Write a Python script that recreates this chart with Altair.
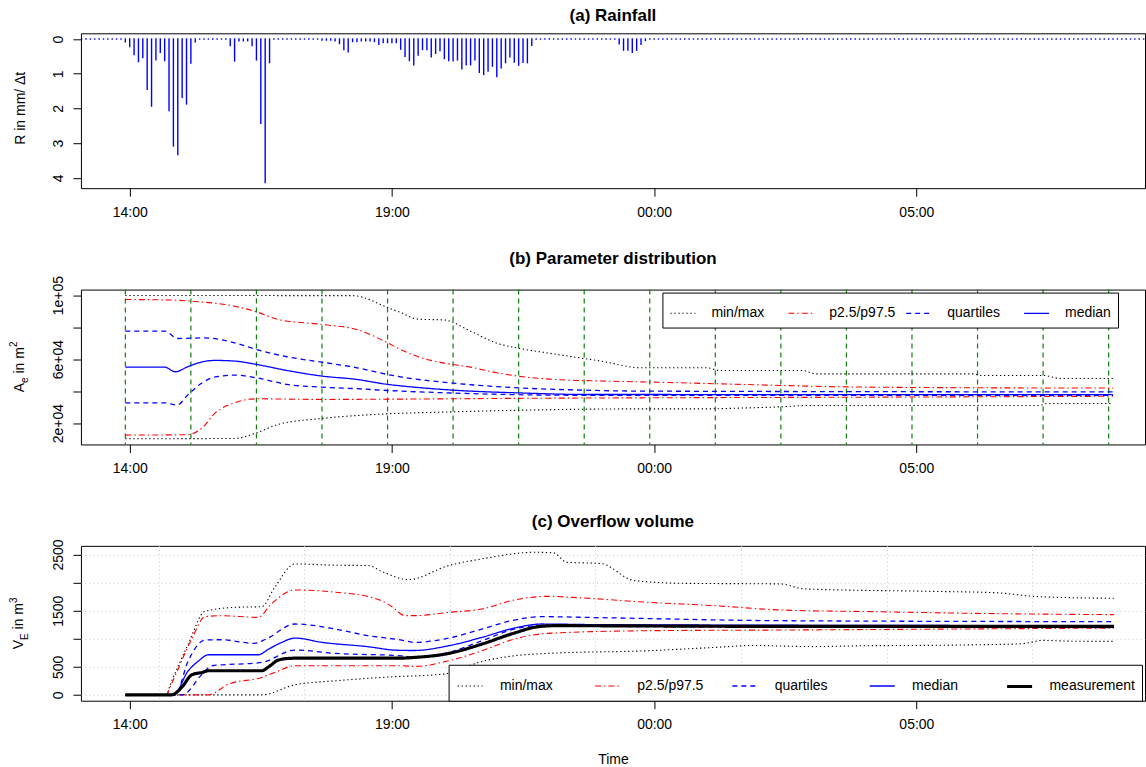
import altair as alt
import pandas as pd

FONT = "Liberation Sans"


def hours(clock):
    """Clock string -> hours after midnight of the first day (morning rolls over)."""
    h, m = map(int, clock.split(":"))
    v = h + m / 60.0
    return v + 24 if v < 12 else v


X_DOMAIN = [13.07, 33.36]
TIME_TICKS = [14, 19, 24, 29]

# ---------------- (a) rainfall, 5-minute steps ----------------
rain_first = "13:05"
rain_last = "09:20"
rain_clock = ["13:55", "14:00", "14:05", "14:10", "14:15", "14:20", "14:25", "14:30", "14:35",
              "14:40", "14:45", "14:50", "14:55", "15:00", "15:05", "15:10", "15:15",
              "15:55", "16:00", "16:05", "16:10", "16:15", "16:20", "16:25", "16:30", "16:35", "16:40",
              "17:40", "17:45", "17:50", "17:55", "18:00", "18:05", "18:10", "18:15", "18:20",
              "18:25", "18:30", "18:35", "18:40", "18:45", "18:50", "18:55", "19:00", "19:05",
              "19:10", "19:15", "19:20", "19:25", "19:30", "19:35", "19:40", "19:45", "19:50", "19:55",
              "20:00", "20:05", "20:10", "20:15", "20:20", "20:25", "20:30", "20:35", "20:40", "20:45",
              "20:50", "20:55", "21:00", "21:05", "21:10", "21:15", "21:20", "21:25", "21:30", "21:35",
              "21:40",
              "23:20", "23:25", "23:30", "23:35", "23:40", "23:45", "23:50"]
rain_mm = [0.08, 0.22, 0.45, 0.65, 0.53, 1.45, 1.93, 0.60, 0.38,
           0.62, 2.06, 3.08, 3.33, 1.68, 1.87, 0.69, 0.08,
           0.19, 0.63, 0.05, 0.05, 0.05, 0.19, 0.60, 2.43, 4.13, 0.68,
           0.03, 0.03, 0.03, 0.05, 0.13, 0.30, 0.37, 0.07, 0.07,
           0.05, 0.05, 0.05, 0.07, 0.15, 0.10, 0.10, 0.10, 0.10,
           0.29, 0.50, 0.62, 0.74, 0.46, 0.30, 0.30, 0.51, 0.41, 0.33,
           0.56, 0.62, 0.63, 0.60, 0.86, 0.74, 0.74, 0.60, 0.96, 1.02,
           0.92, 0.78, 1.08, 0.83, 0.68, 0.51, 0.66, 0.75, 0.67, 0.68,
           0.18,
           0.14, 0.32, 0.32, 0.38, 0.32, 0.15, 0.04]

# ---------------- (b) parameter distribution ----------------
pb_max_t = ["13:55", "18:15", "18:56", "19:11", "19:30", "20:00", "20:30", "21:00", "21:30", "22:00",
            "23:00", "23:45", "01:00", "01:15", "02:50", "03:05", "06:05", "06:15", "07:25", "07:45", "08:45"]
pb_max_v = [99800, 99700, 92100, 88900, 85000, 84500, 77500, 70000, 66300, 63700,
            58700, 54600, 54600, 52900, 52900, 50800, 50800, 49800, 49800, 47900, 47900]
pb_p975_t = ["13:55", "14:45", "15:10", "16:00", "16:25", "16:50", "17:40", "18:20", "18:55", "19:10",
             "19:30", "20:00", "20:30", "21:00", "21:30", "22:00", "23:00", "23:45", "01:40", "03:35",
             "06:05", "08:45"]
pb_p975_v = [97300, 97000, 96250, 93100, 89600, 84800, 81700, 78500, 70200, 66000,
             61500, 57500, 55000, 51500, 49000, 47500, 46300, 45800, 44200, 42700,
             42100, 41900]
pb_q75_t = ["13:55", "14:40", "14:55", "15:25", "16:00", "16:25", "17:00", "17:40", "18:20", "18:55",
            "19:10", "20:10", "21:30", "22:40", "23:45", "08:45"]
pb_q75_v = [77500, 77500, 72900, 73300, 70200, 66000, 61500, 58100, 54600, 50400,
            48900, 45000, 41900, 40600, 40000, 39500]
pb_med_t = ["13:55", "14:40", "14:52", "15:07", "15:23", "15:38", "16:00", "16:25", "17:00", "17:40",
            "18:20", "18:55", "19:10", "20:10", "21:30", "22:40", "08:45"]
pb_med_v = [55000, 55000, 52100, 55400, 58300, 59200, 58800, 56700, 52900, 49400,
            47300, 44200, 43300, 40600, 38800, 37900, 37800]
pb_q25_t = ["13:55", "14:40", "14:54", "15:07", "15:23", "15:38", "16:00", "16:25", "17:00", "17:40",
            "18:20", "18:55", "20:10", "21:30", "22:40", "08:45"]
pb_q25_v = [32700, 32700, 31250, 37900, 45200, 48900, 50000, 48300, 44200, 42500,
            41500, 40400, 38800, 37700, 37400, 37300]
pb_p25_t = ["13:55", "15:07", "15:23", "15:38", "16:00", "16:25", "17:40", "19:10", "21:30", "23:45",
            "04:00", "08:45"]
pb_p25_v = [12500, 12750, 17100, 26400, 32700, 35200, 34800, 35000, 35500, 35800,
            36200, 36800]
pb_min_t = ["13:55", "16:00", "16:25", "16:50", "17:40", "18:55", "20:00", "21:30", "23:45", "01:00",
            "01:40", "02:25", "02:55", "07:20", "07:30", "08:45"]
pb_min_v = [10200, 10400, 13900, 19200, 22900, 25800, 26900, 28100, 28900, 28900,
            29400, 30200, 31000, 31000, 32300, 32300]
# update instants of the parameter distribution
pb_update_t = ["13:55", "15:10", "16:25", "17:40", "18:55", "20:10", "21:25", "22:40",
               "23:55", "01:10", "02:25", "03:40", "04:55", "06:10", "07:25", "08:40"]

# ---------------- (c) overflow volume ----------------
pc_meas_t = ["13:55", "14:48", "15:00", "15:11", "15:23", "15:30", "16:31", "16:39", "16:50", "17:02",
             "17:17", "19:11", "19:26", "20:05", "20:43", "21:20", "21:47", "22:06", "02:25", "08:46"]
pc_meas_v = [0, 0, 143, 357, 399, 429, 429, 500, 619, 649,
             655, 655, 667, 738, 905, 1101, 1214, 1232, 1220, 1220]
pc_med_t = ["13:55", "14:50", "15:07", "15:19", "15:30", "16:27", "16:39", "16:54", "17:09", "17:40",
            "18:33", "19:05", "19:25", "20:05", "20:43", "21:20", "21:51", "23:00", "08:46"]
pc_med_v = [0, 0, 429, 607, 714, 714, 815, 935, 1012, 935,
            857, 795, 790, 875, 1024, 1190, 1262, 1250, 1232]
pc_q75_t = ["13:55", "14:52", "15:07", "15:26", "15:44", "16:23", "16:36", "17:09", "17:55", "18:33",
            "19:11", "19:26", "20:05", "20:43", "21:20", "21:51", "23:00", "02:25", "08:46"]
pc_q75_v = [0, 0, 607, 976, 982, 917, 994, 1262, 1173, 1054,
            976, 935, 1012, 1173, 1333, 1393, 1375, 1321, 1304]
pc_q25_t = ["13:55", "15:00", "15:23", "15:34", "16:31", "17:09", "17:55", "19:11", "19:26", "20:05",
            "20:43", "21:20", "21:51", "23:00", "08:46"]
pc_q25_v = [0, 0, 369, 518, 577, 798, 738, 696, 667, 756,
            964, 1173, 1238, 1220, 1200]
pc_p975_t = ["13:55", "14:42", "14:46", "15:11", "15:26", "15:44", "16:27", "16:42", "17:09", "17:55",
             "18:33", "18:48", "19:00", "19:15", "19:26", "20:05", "20:43", "21:20", "21:58", "22:37",
             "23:53", "01:09", "02:25", "04:20", "06:05", "08:46"]
pc_p975_v = [0, 0, 131, 994, 1393, 1410, 1381, 1619, 1869, 1830,
             1750, 1679, 1571, 1411, 1411, 1470, 1530, 1690, 1755, 1727,
             1649, 1589, 1512, 1480, 1452, 1429]
pc_p25_t = ["13:55", "15:30", "15:53", "16:31", "16:46", "17:09", "19:11", "19:26", "20:05", "20:43",
            "21:20", "21:58", "23:53", "02:25", "08:46"]
pc_p25_v = [0, 0, 190, 310, 399, 518, 518, 506, 607, 786,
            994, 1095, 1143, 1155, 1190]
pc_min_t = ["13:55", "16:31", "17:09", "17:55", "19:00", "19:58", "20:43", "21:20", "21:58", "23:53",
            "01:09", "01:55", "02:25", "03:00", "04:00", "05:00", "06:00", "07:00", "07:25", "08:00",
            "08:46"]
pc_min_v = [0, 0, 179, 250, 321, 369, 595, 696, 738, 786,
            845, 880, 870, 860, 875, 880, 890, 910, 970, 955,
            952]
pc_max_t = ["13:55", "14:42", "14:46", "15:07", "15:26", "16:01", "16:31", "16:46", "17:09", "17:55",
            "18:33", "18:48", "19:19", "20:05", "20:43", "21:43", "22:05", "22:20", "22:59", "23:37",
            "00:31", "02:25", "02:52", "05:14", "06:30", "07:20", "08:46"]
pc_max_v = [0, 0, 161, 905, 1488, 1560, 1571, 1917, 2333, 2310,
            2304, 2202, 2054, 2304, 2423, 2541, 2530, 2363, 2340, 2036,
            1988, 1976, 1887, 1845, 1820, 1750, 1720]
pc_grid_t = ["14:34", "17:20", "20:07", "22:53", "01:40", "04:27", "07:13"]

# ---------------- styles ----------------
STATS = ["min/max", "p2.5/p97.5", "quartiles", "median", "measurement"]
STAT_COLORS = ["black", "red", "blue", "blue", "black"]
STAT_DASHES = [[1.3, 2.7], [6, 3, 1.5, 3], [5, 4], [1, 0], [1, 0]]
STAT_WIDTHS = [1.1, 1.1, 1.3, 1.3, 3.2]


def time_x(title=None):
    axis = alt.Axis(values=TIME_TICKS,
                    labelExpr="timeFormat(datetime(2000, 0, 1, datum.value, 0), '%H:%M')",
                    title=title, titlePadding=21)
    return alt.X("t:Q", scale=alt.Scale(domain=X_DOMAIN, nice=False, zero=False), axis=axis)


def label_expr(mapping):
    expr = "''"
    for val, txt in mapping.items():
        expr = f"datum.value == {val} ? '{txt}' : ({expr})"
    return expr


def title_pieces(pieces):
    """Rotated axis-title fragments: (text, size, x, y, align)."""
    layers = []
    for txt, size, x, y, align in pieces:
        layers.append(
            alt.Chart(pd.DataFrame({"s": [txt]}))
            .mark_text(angle=270, align=align, baseline="middle", fontSize=size,
                       font=FONT, color="black")
            .encode(text="s:N", x=alt.value(x), y=alt.value(y))
        )
    return layers


def series_frame(series):
    rows = []
    for stat, line_id, times, vals in series:
        for c, v in zip(times, vals):
            rows.append({"stat": stat, "line": line_id, "t": hours(c), "v": v})
    return pd.DataFrame(rows)


def stat_lines(df, stats, y_enc, legend, x_title=None):
    n = len(stats)
    base = alt.Chart(df).mark_line(interpolate="monotone", strokeCap="butt")
    return base.encode(
        x=time_x(x_title),
        y=y_enc,
        detail="line:N",
        color=alt.Color("stat:N", scale=alt.Scale(domain=stats, range=STAT_COLORS[:n]), legend=legend),
        strokeDash=alt.StrokeDash("stat:N", scale=alt.Scale(domain=stats, range=STAT_DASHES[:n]),
                                  legend=legend),
        strokeWidth=alt.StrokeWidth("stat:N", scale=alt.Scale(type="ordinal", domain=stats,
                                                               range=STAT_WIDTHS[:n]),
                                    legend=legend),
    )


def make_legend(x, y, cols, col_pad, label_offset, last_label, trailing):
    # trailing non-breaking spaces widen the last entry so the frame keeps its right margin
    tail = "\u00a0" * trailing
    return alt.Legend(orient="none", legendX=x, legendY=y, direction="horizontal", columns=cols,
                      title=None, symbolType="stroke", symbolSize=625, labelFontSize=14,
                      labelFont=FONT, labelColor="black", labelOffset=label_offset, gridAlign="all",
                      columnPadding=col_pad, strokeColor="black", fillColor="white", padding=7,
                      cornerRadius=0,
                      labelExpr=f"datum.label == '{last_label}' ? datum.label + '{tail}' : datum.label")


W, H = 1065, 155

# ---- panel (a) ----
grid_start, grid_end = hours(rain_first), hours(rain_last)
n_steps = int(round((grid_end - grid_start) * 12)) + 1
rain_lookup = {int(round(hours(c) * 60)): v for c, v in zip(rain_clock, rain_mm)}
rain_t = [grid_start + k / 12.0 for k in range(n_steps)]
rain_v = [rain_lookup.get(int(round(t * 60)), 0.0) for t in rain_t]
rain_df = pd.DataFrame({"t": rain_t, "r": rain_v})

rain_bars = alt.Chart(rain_df).mark_rule(color="blue", strokeWidth=1.4, strokeCap="square").encode(
    x=time_x(),
    y=alt.Y("r:Q", scale=alt.Scale(domain=[-0.165, 4.295], reverse=True, nice=False, zero=False),
            axis=alt.Axis(values=[0, 1, 2, 3, 4], title=None)),
    y2=alt.datum(0),
)
panel_a = alt.layer(
    rain_bars, *title_pieces([("R in mm/ \u0394t", 14, -60, 75, "center")])
).properties(width=W, height=H, title="(a) Rainfall")

# ---- panel (b) ----
b_series = [
    ("min/max", "min", pb_min_t, pb_min_v), ("min/max", "max", pb_max_t, pb_max_v),
    ("p2.5/p97.5", "p2.5", pb_p25_t, pb_p25_v), ("p2.5/p97.5", "p97.5", pb_p975_t, pb_p975_v),
    ("quartiles", "q25", pb_q25_t, pb_q25_v), ("quartiles", "q75", pb_q75_t, pb_q75_v),
    ("median", "med", pb_med_t, pb_med_v),
]
b_df = series_frame(b_series)
b_y = alt.Y("v:Q", scale=alt.Scale(domain=[6650, 103500], nice=False, zero=False),
            axis=alt.Axis(values=[20000, 40000, 60000, 80000, 100000], title=None,
                          labelExpr=label_expr({20000: "2e+04", 60000: "6e+04", 100000: "1e+05"})))
updates = alt.Chart(pd.DataFrame({"t": [hours(c) for c in pb_update_t]})).mark_rule(
    color="#0f7f0f", strokeDash=[5, 4], strokeWidth=1.2).encode(x=time_x())
panel_b = alt.layer(
    updates,
    stat_lines(b_df, STATS[:4], b_y, make_legend(582, 3, 4, 7, 15, "median", 6)),
    *title_pieces([("A", 14, -61.3, 102.7, "left"), ("e", 10, -56, 93.4, "left"),
                   ("in m", 14, -61.3, 84.0, "left"), ("2", 10, -67, 57.4, "left")]),
).properties(width=W, height=H, title="(b) Parameter distribution")

# ---- panel (c) ----
c_series = [
    ("min/max", "min", pc_min_t, pc_min_v), ("min/max", "max", pc_max_t, pc_max_v),
    ("p2.5/p97.5", "p2.5", pc_p25_t, pc_p25_v), ("p2.5/p97.5", "p97.5", pc_p975_t, pc_p975_v),
    ("quartiles", "q25", pc_q25_t, pc_q25_v), ("quartiles", "q75", pc_q75_t, pc_q75_v),
    ("median", "med", pc_med_t, pc_med_v), ("measurement", "meas", pc_meas_t, pc_meas_v),
]
c_df = series_frame(c_series)
c_y = alt.Y("v:Q", scale=alt.Scale(domain=[-105, 2655], nice=False, zero=False),
            axis=alt.Axis(values=[0, 500, 1000, 1500, 2000, 2500], title=None, grid=True,
                          gridDash=[1, 3], gridColor="#c8c8c8",
                          labelExpr=label_expr({0: "0", 500: "500", 1500: "1500", 2500: "2500"})))
vgrid = alt.Chart(pd.DataFrame({"t": [hours(c) for c in pc_grid_t]})).mark_rule(
    color="#c8c8c8", strokeDash=[1, 3], strokeWidth=1).encode(x=time_x("Time"))
panel_c = alt.layer(
    vgrid,
    stat_lines(c_df, STATS, c_y, make_legend(368, 119, 5, 2.5, 15.4, "measurement", 1),
               x_title="Time"),
    *title_pieces([("V", 14, -61.5, 103.5, "left"), ("E", 10, -56, 94.2, "left"),
                   ("in m", 14, -61.5, 83.6, "left"), ("3", 10, -67, 57.1, "left")]),
).properties(width=W, height=H, title="(c) Overflow volume")

chart = (
    alt.vconcat(panel_a, panel_b, panel_c, spacing=101.5, bounds="flush")
    .resolve_scale(x="independent", y="independent", color="independent",
                   strokeDash="independent", strokeWidth="independent")
    .resolve_legend(color="independent", strokeDash="independent", strokeWidth="independent")
    .configure(font=FONT, padding={"left": 8, "top": 6, "right": 0, "bottom": 0})
    .configure_view(stroke="black", strokeWidth=1)
    .configure_axis(domain=False, grid=False, tickColor="black", tickSize=8, labelColor="black",
                    labelFont=FONT, labelFontSize=14, titleFont=FONT, titleFontSize=14,
                    titleFontWeight="normal", titleColor="black", labelPadding=9)
    .configure_axisY(labelAngle=270, labelAlign="center", labelBaseline="bottom", labelPadding=7)
    .configure_title(font=FONT, fontSize=17, fontWeight="bold", anchor="middle", offset=8,
                     color="black")
)

chart.save("out.html", embed_options={"renderer": "svg", "actions": False})
